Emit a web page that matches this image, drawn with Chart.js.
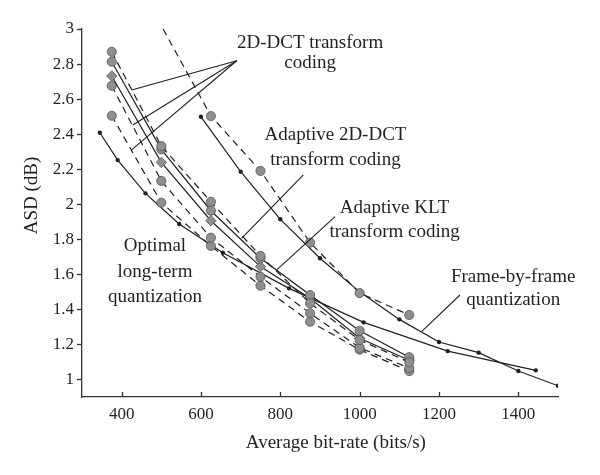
<!DOCTYPE html>
<html>
<head>
<meta charset="utf-8">
<script src="https://cdn.jsdelivr.net/npm/chart.js@4.4.1/dist/chart.umd.min.js"></script>
<style>
    html, body { margin: 0; padding: 0; background: #fff; }
</style>
</head>
<body>
<canvas id="asdChart" width="600" height="475"></canvas>
<script>

const SERIF = '"Liberation Serif", "DejaVu Serif", serif';
const INK = '#231f20';
const MARKER_FILL = '#8f8f8f';
const MARKER_EDGE = '#555555';

// tick labels
const xTickValues = [400, 600, 800, 1000, 1200, 1400];
const yTickValues = [1, 1.2, 1.4, 1.6, 1.8, 2, 2.2, 2.4, 2.6, 2.8, 3];

// bit rates shared by the transform coding curves (bits/s)
const codingRates = [375, 500, 625, 750, 875, 1000, 1125];

// 2D-DCT transform coding (three dashed curves)
const dctUpper = [2.870, 2.332, 2.014, 1.705, 1.435, 1.225, 1.098];
const dctMiddle = [2.676, 2.133, 1.809, 1.586, 1.378, 1.181, 1.065];
const dctLower = [2.505, 2.009, 1.762, 1.535, 1.330, 1.170, 1.048];

// adaptive schemes (solid curves)
const adaptiveDct = [2.813, 2.313, 1.963, 1.692, 1.482, 1.278, 1.127];
const adaptiveKlt = [2.732, 2.239, 1.906, 1.644, 1.463, 1.235, 1.110];

// dashed curve on the right, its first point lies above the plot
const dctRightRates = [490, 625, 750, 875, 1000, 1125];
const dctRight = [3.06, 2.503, 2.190, 1.781, 1.493, 1.368];

// frame-by-frame quantization
const frameRates = [600, 700, 800, 900, 1000, 1100, 1200, 1300, 1400, 1500];
const frameByFrame = [2.499, 2.186, 1.914, 1.692, 1.500, 1.343, 1.214, 1.153, 1.048, 0.964];

// optimal long-term quantization
const optimalRates = [345, 390, 460, 545, 655, 822, 1010, 1222, 1444];
const optimalLongTerm = [2.408, 2.252, 2.062, 1.887, 1.723, 1.520, 1.326, 1.162, 1.052];

// text labels and leader lines, in data units
const notes = [
    { lines: ['2D-DCT transform', 'coding'], x: 875, y: [2.92, 2.806] },
    { lines: ['Adaptive 2D-DCT', 'transform coding'], x: 939, y: [2.395, 2.252] },
    { lines: ['Adaptive KLT', 'transform coding'], x: 1088, y: [1.979, 1.843] },
    { lines: ['Optimal', 'long-term', 'quantization'], x: 484, y: [1.762, 1.615, 1.472] },
    { lines: ['Frame-by-frame', 'quantization'], x: 1387, y: [1.586, 1.454] }
];
const leaders = [
    [[690, 2.819], [425, 2.652]],
    [[690, 2.819], [428, 2.452]],
    [[690, 2.819], [425, 2.310]],
    [[858, 2.167], [703, 1.807]],
    [[938, 1.929], [791, 1.625]],
    [[1253, 1.482], [1156, 1.273]]
];

function toPoints(xs, ys) {
    return xs.map((x, i) => ({ x: x, y: ys[i] }));
}

function markerSeries(label, xs, ys, dashed, style) {
    return {
        label: label,
        data: toPoints(xs, ys),
        borderColor: INK,
        borderWidth: 1.2,
        borderDash: dashed ? [7, 5] : [],
        pointStyle: style || 'circle',
        pointRadius: style === 'rectRot' ? 5.2 : 4.6,
        pointBackgroundColor: MARKER_FILL,
        pointBorderColor: MARKER_EDGE,
        pointBorderWidth: 0.8,
        tension: 0
    };
}

function dotSeries(label, xs, ys) {
    return {
        label: label,
        data: toPoints(xs, ys),
        borderColor: INK,
        borderWidth: 1.2,
        pointRadius: 2.2,
        pointBackgroundColor: INK,
        pointBorderColor: INK,
        pointBorderWidth: 0,
        tension: 0
    };
}

// Leader lines, texts, tick marks and both axis titles
const annotate = {
    id: 'annotate',
    afterDatasetsDraw(chart) {
        const { ctx, scales: { x, y } } = chart;
        ctx.save();
        ctx.strokeStyle = INK;
        ctx.lineWidth = 1.1;
        leaders.forEach(([a, b]) => {
            ctx.beginPath();
            ctx.moveTo(x.getPixelForValue(a[0]), y.getPixelForValue(a[1]));
            ctx.lineTo(x.getPixelForValue(b[0]), y.getPixelForValue(b[1]));
            ctx.stroke();
        });

        ctx.fillStyle = INK;
        ctx.font = '19px ' + SERIF;
        ctx.textAlign = 'center';
        ctx.textBaseline = 'middle';
        notes.forEach((n) => {
            n.lines.forEach((t, i) => {
                ctx.fillText(t, x.getPixelForValue(n.x), y.getPixelForValue(n.y[i]));
            });
        });

        // tick marks: x ticks point up into the plot, y ticks point left
        ctx.strokeStyle = '#333';
        ctx.lineWidth = 1.3;
        const bottom = chart.chartArea.bottom;
        const left = chart.chartArea.left;
        xTickValues.forEach((v) => {
            const px = Math.round(x.getPixelForValue(v)) + 0.5;
            ctx.beginPath();
            ctx.moveTo(px, bottom);
            ctx.lineTo(px, bottom - 5);
            ctx.stroke();
        });
        yTickValues.forEach((v) => {
            const py = Math.round(y.getPixelForValue(v)) + 0.5;
            ctx.beginPath();
            ctx.moveTo(left, py);
            ctx.lineTo(left - 5, py);
            ctx.stroke();
        });

        // axis titles
        ctx.fillText('Average bit-rate (bits/s)', x.getPixelForValue(940), bottom + 46);
        ctx.translate(32, y.getPixelForValue(2.05));
        ctx.rotate(-Math.PI / 2);
        ctx.fillText('ASD (dB)', 0, 0);
        ctx.restore();
    }
};

const chart = new Chart(document.getElementById('asdChart'), {
    type: 'line',
    data: {
        datasets: [
            markerSeries('2D-DCT transform coding', codingRates, dctUpper, true),
            markerSeries('Adaptive 2D-DCT transform coding', codingRates, adaptiveDct, false),
            markerSeries('Adaptive KLT transform coding', codingRates, adaptiveKlt, false, 'rectRot'),
            markerSeries('2D-DCT transform coding', codingRates, dctMiddle, true),
            markerSeries('2D-DCT transform coding', codingRates, dctLower, true),
            markerSeries('2D-DCT transform coding', dctRightRates, dctRight, true),
            dotSeries('Frame-by-frame quantization', frameRates, frameByFrame),
            dotSeries('Optimal long-term quantization', optimalRates, optimalLongTerm)
        ]
    },
    options: {
        responsive: false,
        animation: false,
        layout: { padding: { top: 29, right: 42, bottom: 0, left: 0 } },
        plugins: {
            legend: { display: false },
            tooltip: { enabled: false }
        },
        scales: {
            x: {
                type: 'linear',
                min: 300,
                max: 1500,
                afterBuildTicks: (scale) => { scale.ticks = xTickValues.map((v) => ({ value: v })); },
                afterFit: (scale) => { scale.height = 78; },
                grid: { display: false, drawTicks: false },
                border: { display: true, color: '#333', width: 1.3 },
                ticks: {
                    padding: 7,
                    color: INK,
                    font: { family: SERIF, size: 17 },
                    callback: (v) => String(v)
                }
            },
            y: {
                type: 'linear',
                min: 0.9,
                max: 3,
                afterBuildTicks: (scale) => { scale.ticks = yTickValues.map((v) => ({ value: v })); },
                afterFit: (scale) => { scale.width = 82; },
                grid: { display: false, drawTicks: false },
                border: { display: true, color: '#333', width: 1.3 },
                ticks: {
                    padding: 8,
                    color: INK,
                    font: { family: SERIF, size: 17 },
                    callback: (v) => String(v)
                }
            }
        }
    },
    plugins: [annotate]
});
</script>
</body>
</html>
